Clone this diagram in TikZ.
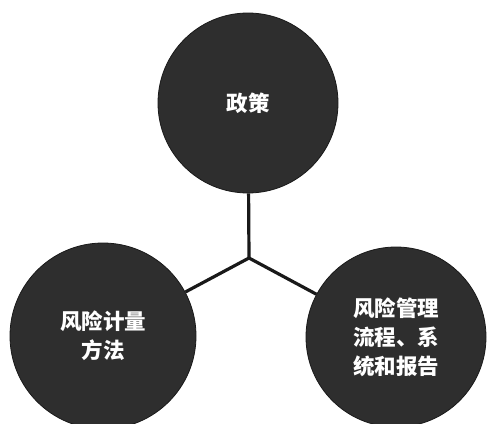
\documentclass[tikz,border=0pt]{standalone}
\usepackage{fontspec}
\newfontfamily\cjk{Noto Sans CJK SC}
\begin{document}
\begin{tikzpicture}[x=1pt,y=-1pt,
  ball/.style={circle,fill=black!82,draw=black!90,line width=0.8pt,minimum size=#1,inner sep=0pt,
    text=white,font=\cjk\bfseries\fontsize{21.5}{29}\selectfont,align=center},
  link/.style={line width=3.2pt,black!90}]
\useasboundingbox (0,0) rectangle (487,423);
\node[ball=180pt] (pol) at (248,103) {政策};
\node[ball=186pt] (meas) at (103,336) {风险计量\\方法};
\node[ball=180pt] (proc) at (396,337) {风险管理\\流程、系\\统和报告};
\coordinate (hub) at (249,258);
\draw[link] (pol) -- (hub);
\draw[link] (hub) -- (meas);
\draw[link] (hub) -- (proc);
\end{tikzpicture}
\end{document}
